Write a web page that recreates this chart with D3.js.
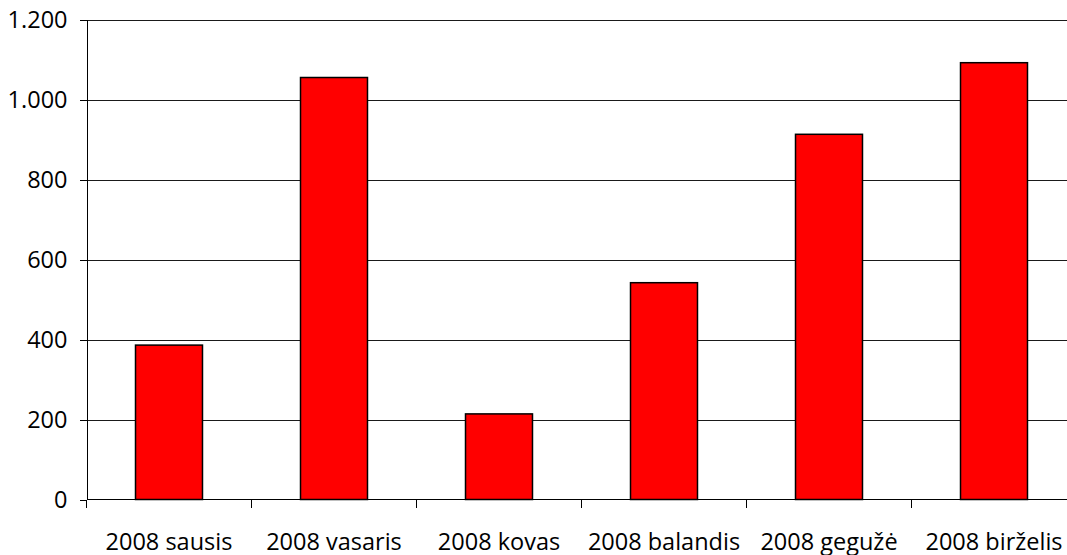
<!DOCTYPE html>
<html>
<head>
<meta charset="utf-8">
<script src="https://cdn.jsdelivr.net/npm/d3@7"></script>
<style>
  body { margin: 0; background: #fff; }
  svg { display: block; }
  .grid line { stroke: #1a1a1a; stroke-width: 1; shape-rendering: crispEdges; }
  .grid path { display: none; }
  .axis path, .axis line { stroke: #000; stroke-width: 1; shape-rendering: crispEdges; }
  svg text { fill: #000; font-family: "Open Sans", sans-serif; font-size: 23.5px; }
</style>
</head>
<body>
<svg></svg>
<script>
const categories = ['2008 sausis', '2008 vasaris', '2008 kovas', '2008 balandis', '2008 gegužė', '2008 birželis'];
const values = [386, 1055, 214, 542, 913, 1092];
const yTicks = [0, 200, 400, 600, 800, 1000, 1200];

const width = 1067
const height = 555
const margin = {top: 19.5, left: 86.5}
const plotW = 990
const plotH = 480

const svg = d3.select('svg')
  .attr('width', width)
  .attr('height', height)

const chart = svg.append('g')
  .attr('transform', `translate(${margin.left}, ${margin.top})`)

const yScale = d3.scaleLinear()
  .domain([0, 1200])
  .range([plotH, 0])

const xScale = d3.scaleBand()
  .domain(categories)
  .range([0, plotW])

const barScale = d3.scaleBand()
  .domain(categories)
  .range([0, plotW])
  .paddingInner(0.594)
  .paddingOuter(0.297)

// horizontal grid lines
chart.append('g')
  .attr('class', 'grid')
  .call(d3.axisLeft(yScale).tickValues(yTicks.slice(1)).tickSize(-plotW).tickFormat(''))

// bars
chart.selectAll('rect.bar')
  .data(values)
  .enter()
  .append('rect')
  .attr('class', 'bar')
  .attr('x', (v, i) => barScale(categories[i]))
  .attr('y', v => yScale(v))
  .attr('width', barScale.bandwidth())
  .attr('height', v => plotH - yScale(v))
  .attr('fill', '#ff0000')
  .attr('stroke', '#000')
  .attr('stroke-width', 1.5)

// y axis
chart.append('g')
  .attr('class', 'axis')
  .call(d3.axisLeft(yScale)
    .tickValues(yTicks)
    .tickSize(7)
    .tickSizeOuter(0)
    .tickPadding(12)
    .tickFormat(d => d3.format(',')(d).replace(',', '.')))
  .selectAll('text')
  .attr('dy', '0.36em')

// x axis, ticks at band boundaries
const xAxis = chart.append('g')
  .attr('class', 'axis')
  .attr('transform', `translate(0, ${plotH})`)

xAxis.append('line')
  .attr('x1', 0).attr('x2', plotW)
  .attr('y1', 0).attr('y2', 0)

xAxis.selectAll('line.tick')
  .data(categories)
  .enter()
  .append('line')
  .attr('class', 'tick')
  .attr('x1', c => xScale(c)).attr('x2', c => xScale(c))
  .attr('y1', 0).attr('y2', 8)

xAxis.selectAll('text')
  .data(categories)
  .enter()
  .append('text')
  .attr('x', c => xScale(c) + xScale.bandwidth() / 2)
  .attr('y', 50)
  .attr('text-anchor', 'middle')
  .text(c => c)
</script>
</body>
</html>
